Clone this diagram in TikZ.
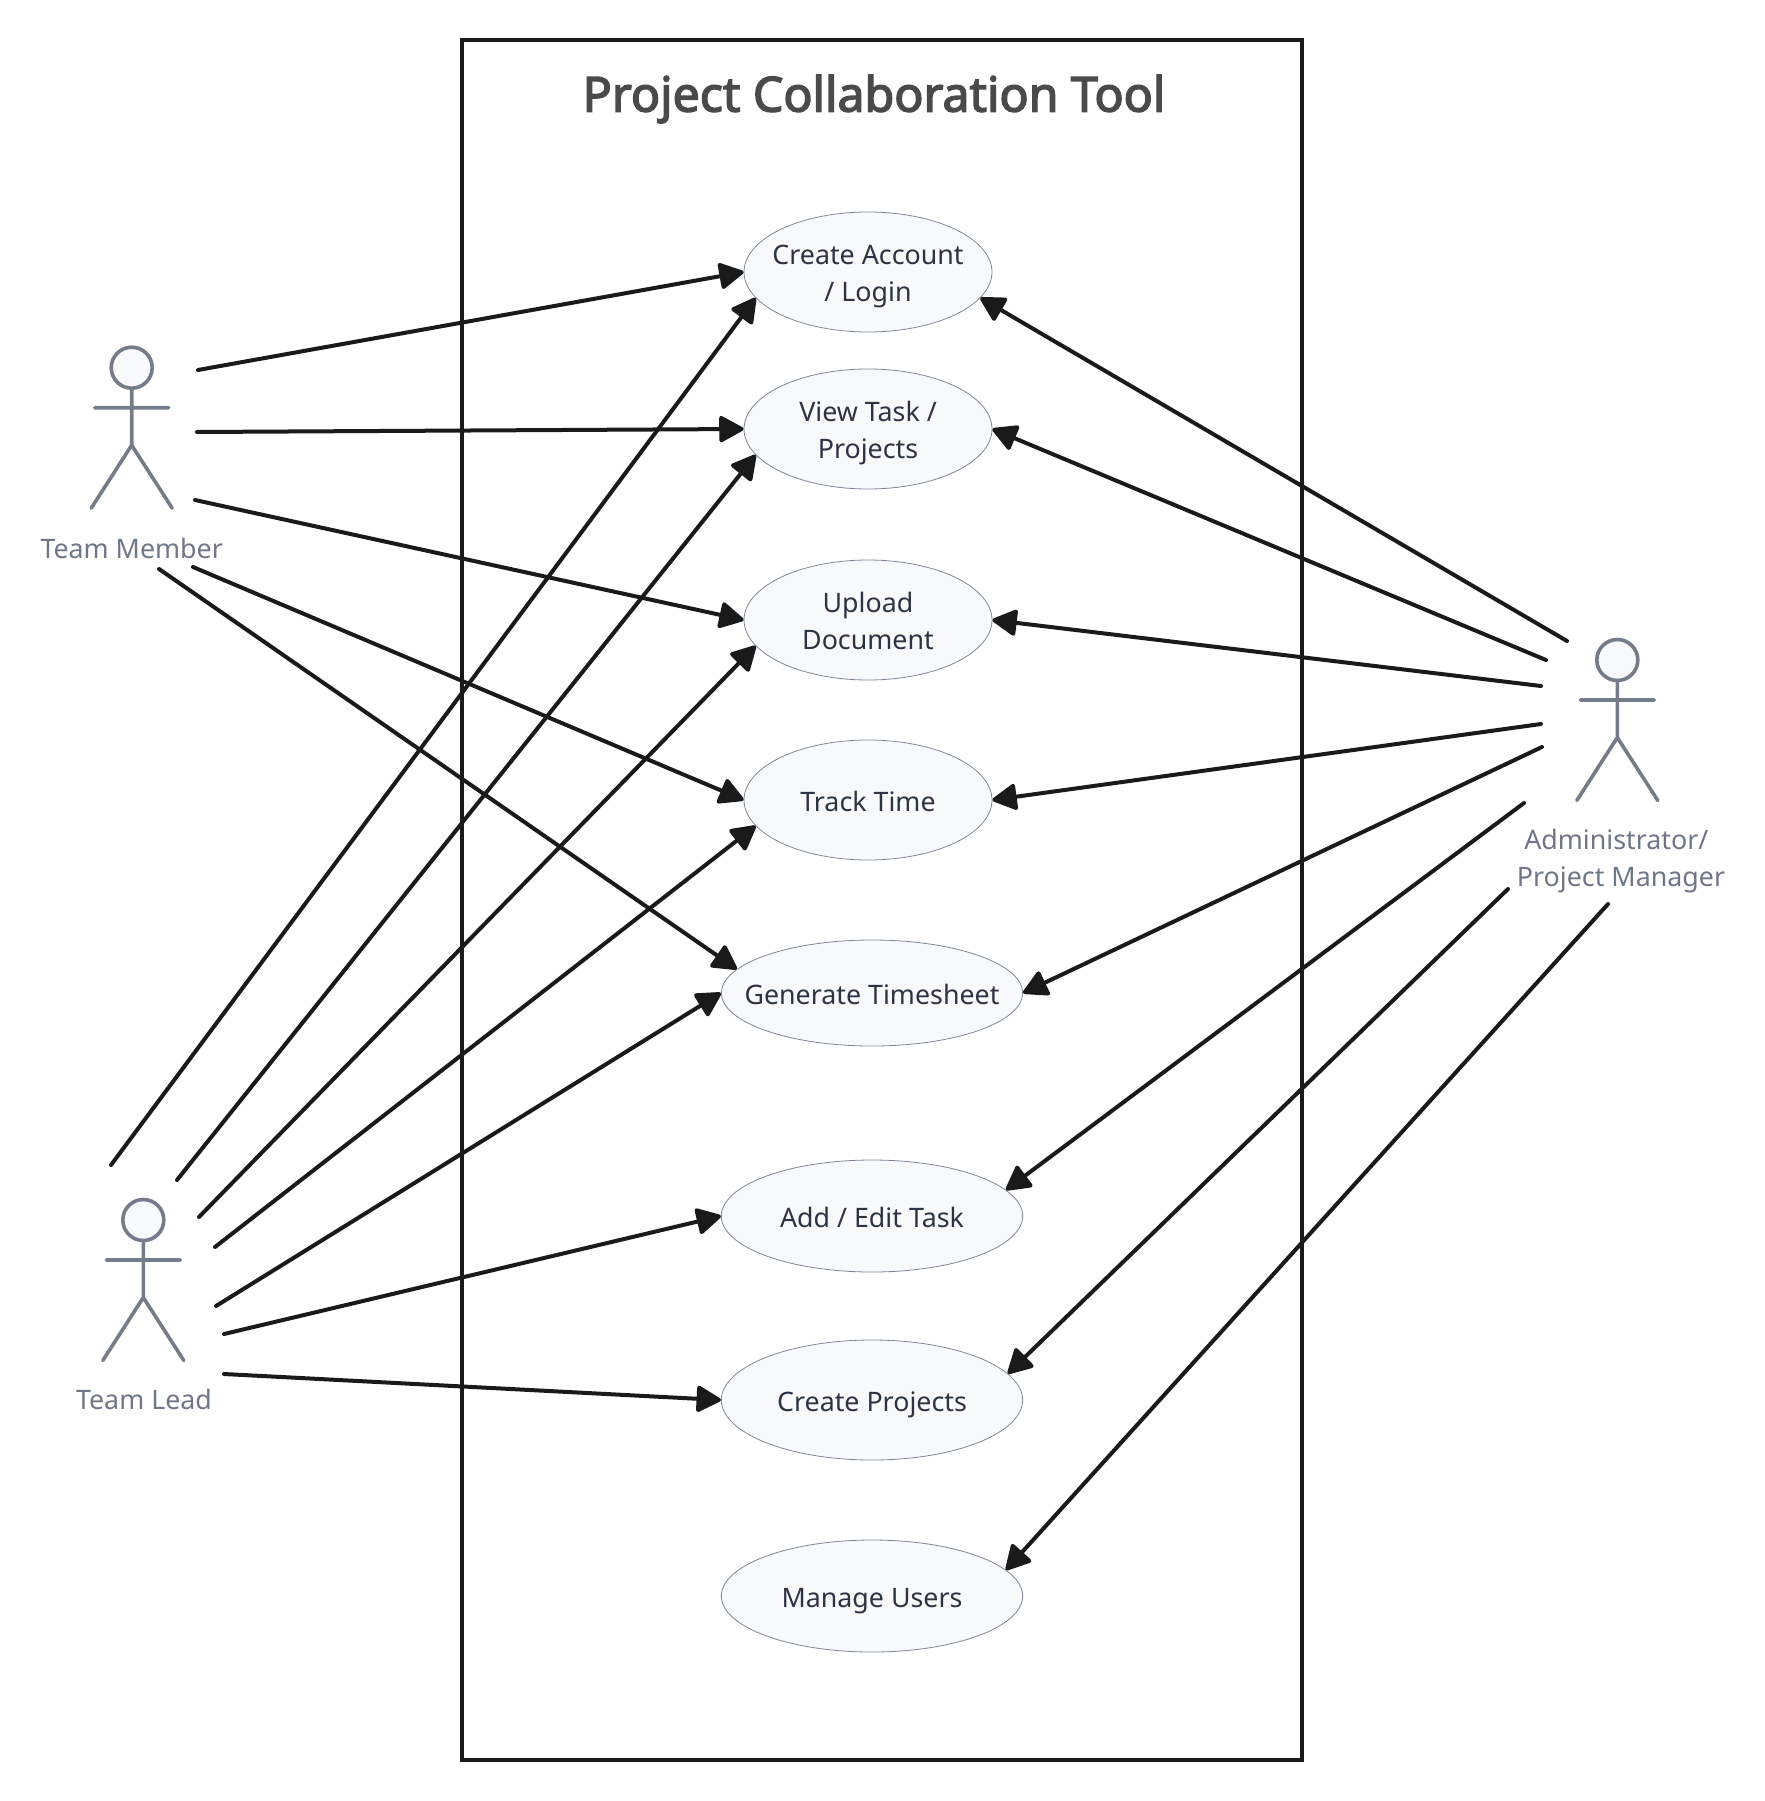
\documentclass[tikz,border=0pt]{standalone}
\usepackage{fontspec}
\setmainfont{Noto Sans}
\newfontfamily\headfont[FakeBold=3]{Noto Sans}
\usepackage{xcolor}
\usepackage{tikz}
\usetikzlibrary{shapes.geometric,arrows.meta}
\definecolor{figure}{HTML}{747C8A}
\definecolor{figlabel}{HTML}{6E7787}
\definecolor{casefill}{HTML}{F8F9FB}
\definecolor{caseline}{HTML}{7F8794}
\definecolor{casetext}{HTML}{2B3442}
\definecolor{headline}{HTML}{4A4A4A}
\definecolor{ink}{HTML}{1A1A1A}
\tikzset{
  usecase/.style={ellipse,draw=caseline,fill=casefill,text=casetext,line width=.6pt,inner ysep=0pt,inner xsep=-16pt,
    minimum width=#1,align=center,font=\fontsize{20.1}{27.6}\selectfont},
  usecase/.default=186pt,
  limb/.style={draw=figure,line width=2.7pt,line cap=round},
  figname/.style={text=figlabel,align=center,font=\fontsize{20.1}{27.6}\selectfont},
  flow/.style={color=ink,line width=3pt,line cap=round,-{Triangle[length=20pt,width=21pt,round]}}
}
\newcommand{\casestrut}{\rule[-5pt]{0pt}{27pt}}
% stick figure: name, x, y of the head centre
\newcommand{\stickfigure}[3]{
  \draw[limb] (#2,#3+20.5) -- (#2,#3+77.5) (#2-37,#3+40) -- (#2+37,#3+40)
    (#2-40.5,#3+140.5) -- (#2,#3+77.5) -- (#2+40.5,#3+140.5);
  \node[circle,draw=figure,fill=casefill,line width=2.7pt,minimum size=30.75pt,inner sep=0pt] (#1) at (#2,#3) {};
}
\begin{document}
\begin{tikzpicture}[x=.75pt,y=-.75pt]
\useasboundingbox (0,0) rectangle (1765,1801);
\node[draw=ink,line width=3pt,minimum width=630pt,minimum height=1290pt,inner sep=0pt] (system) at (881.7,900) {};
\node[text=headline,font=\fontsize{36.2}{40}\selectfont\headfont] (title) at (874,99) {Project Collaboration Tool};

\node[usecase,minimum height=90pt] (create) at (868,272) {Create Account\casestrut\\/ Login\casestrut};
\node[usecase,minimum height=90pt] (view) at (868,429) {View Task /\casestrut\\Projects\casestrut};
\node[usecase,minimum height=90pt] (upload) at (868,620) {Upload\casestrut\\Document\casestrut};
\node[usecase,minimum height=90pt] (track) at (868,800) {Track Time\casestrut};
\node[usecase=226pt,minimum height=79.5pt] (timesheet) at (872,993) {Generate Timesheet\casestrut};
\node[usecase=226pt,minimum height=84pt] (edit) at (872,1216) {Add / Edit Task\casestrut};
\node[usecase=226pt,minimum height=90pt] (projects) at (872,1400) {Create Projects\casestrut};
\node[usecase=226pt,minimum height=84pt] (users) at (872,1596) {Manage Users\casestrut};

\stickfigure{member}{131.7}{367.7}
\stickfigure{lead}{143.3}{1220}
\stickfigure{admin}{1617.3}{660}
\node[figname] (membername) at (131.7,548) {Team Member};
\node[figname] (leadname) at (144,1399) {Team Lead};
\node[figname] (adminname) at (1621,861) {Administrator/\hspace*{7pt}\\Project Manager};

% free ends of the connectors
\coordinate (m1) at (198,370);
\coordinate (m2) at (197,432);
\coordinate (m3) at (195,500);
\coordinate (m4) at (193,567);
\coordinate (m5) at (159,569);
\coordinate (l1) at (111,1165);
\coordinate (l2) at (177,1180);
\coordinate (l3) at (199,1217);
\coordinate (l4) at (215,1247);
\coordinate (l5) at (216,1306);
\coordinate (l6) at (224,1334);
\coordinate (l7) at (224,1374);
\coordinate (a1) at (1567,641);
\coordinate (a2) at (1546,660);
\coordinate (a3) at (1541,686);
\coordinate (a4) at (1541,724);
\coordinate (a5) at (1542,747);
\coordinate (a6) at (1524,803);
\coordinate (a7) at (1508,889);
\coordinate (a8) at (1608,904);

\path[flow] (m1) edge (create.west)
          (m2) edge (view.west)
          (m3) edge (upload.west)
          (m4) edge (track.west)
          (m5) edge (timesheet.170)
          (l1) edge (create.193)
          (l2) edge (view.193)
          (l3) edge (upload.193)
          (l4) edge (track.193)
          (l5) edge (timesheet.west)
          (l6) edge (edit.west)
          (l7) edge (projects.west)
          (a1) edge (create.-13)
          (a2) edge (view.east)
          (a3) edge (upload.east)
          (a4) edge (track.east)
          (a5) edge (timesheet.east)
          (a6) edge (edit.11)
          (a7) edge (projects.11)
          (a8) edge (users.11)
;
\end{tikzpicture}
\end{document}
